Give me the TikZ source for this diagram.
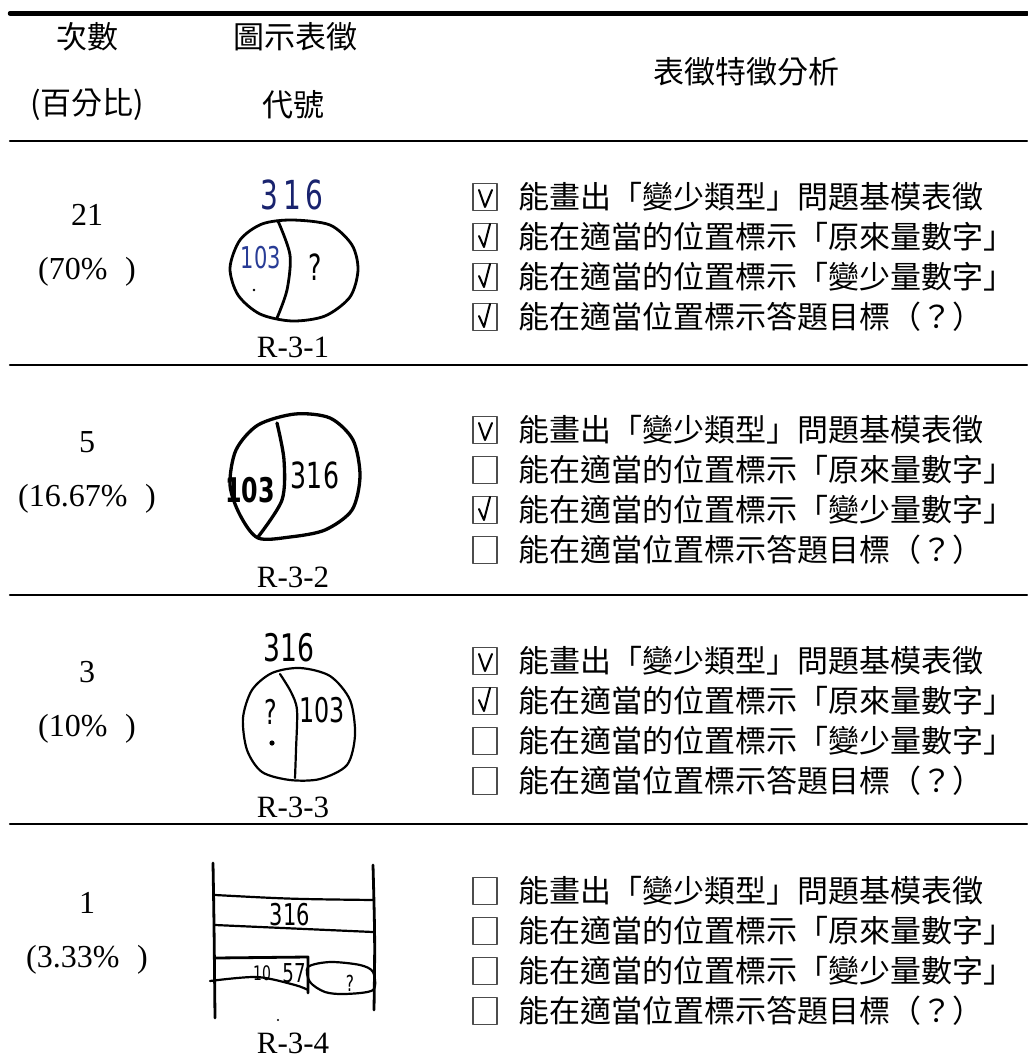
\documentclass[tikz,border=0pt]{standalone}
\usepackage{fontspec}
\setmainfont{Liberation Serif}
\newfontfamily\cjk{Noto Sans CJK TC}
\newfontfamily\hand{DejaVu Sans}
\newcommand\hw[1]{\scalebox{.7}[1]{#1}}
\definecolor{pen}{RGB}{25,35,110}
\definecolor{penb}{RGB}{40,60,150}
\begin{document}
\begin{tikzpicture}[x=1pt, y=-1pt, line join=round, line cap=round,
	head/.style={font=\cjk\fontsize{31}{37}\selectfont, inner sep=0pt},
	num/.style={font=\fontsize{32}{38}\selectfont, inner sep=0pt},
	code/.style={font=\fontsize{31}{37}\selectfont, inner sep=0pt},
	item/.style={font=\cjk\fontsize{31}{37}\selectfont, anchor=west, inner sep=0pt},
	cbox/.style={draw=black!70, line width=1.3pt, minimum width=24pt, minimum height=27pt, inner sep=0pt},
	tick/.style={line width=2pt},
	rule/.style={line width=2.5pt},
	ink/.style={line width=2.8pt},
	hw/.style={font=\hand\fontsize{30}{32}\selectfont, inner sep=0pt}]
	\useasboundingbox (0,0) rectangle (1027,1059);
	% rules
	\draw[line width=4.5pt] (10,13.5) -- (1027,13.5);
	\draw[rule] (10,141) -- (1027,141);
	\foreach \y in {365,595,824} \draw[rule] (10,\y) -- (1027,\y);
	% header
	\node[head] (h-cnt) at (87,37) {次數};
	\node[head] (h-pct) at (87,105) {(百分比)};
	\node[head] (h-fig) at (295,37) {圖示表徵};
	\node[head] (h-code) at (293,105) {代號};
	\node[head] (h-ana) at (746,72) {表徵特徵分析};
	% counts and codes
	\foreach \r/\y/\n/\p in {1/215/21/70, 2/442/5/16.67, 3/672/3/10, 4/903/1/3.33} {
		\node[num] (cnt-\r) at (87,\y) {\n};
		\node[num] (pct-\r) at (87,\y+57) {(\p\%\hspace{.55em})};
	}
	\foreach \r/\y in {1/347,2/577,3/807,4/1043} \node[code] (code-\r) at (293,\y) {R-3-\r};
	% check list
	\foreach \r/\y in {1/197,2/430,3/661,4/891}
		\foreach \i/\t in {1/能畫出「變少類型」問題基模表徵, 2/能在適當的位置標示「原來量數字」,
			3/能在適當的位置標示「變少量數字」, 4/能在適當位置標示答題目標（？）} {
			\node[cbox] (box-\r-\i) at (485,\y+40*\i-40) {};
			\node[item] (item-\r-\i) at (518,\y+40*\i-40) {\t};
		}
	\foreach \r in {1,2,3}
		\draw[tick] ([shift={(-6,-7)}]box-\r-1.center) -- ([shift={(0,10)}]box-\r-1.center) -- ([shift={(7,-7)}]box-\r-1.center);
	\foreach \r/\i in {1/2,1/3,1/4,2/3,3/2}
		\draw[tick] ([shift={(-6,-1)}]box-\r-\i.center) -- ([shift={(-1,10)}]box-\r-\i.center) -- ([shift={(5,-13)}]box-\r-\i.center);
	% R-3-1
	\draw[ink] plot[smooth cycle] coordinates {(292,220) (330,225) (352,245) (358,270) (350,297) (325,316) (292,321) (260,314) (238,295) (230,268) (240,240) (262,224)};
	\draw[ink] plot[smooth] coordinates {(278,221) (290,255) (287,290) (277,318)};
	\node[hw, text=pen, font=\hand\fontsize{40}{40}\selectfont] (a-top) at (292,195) {\hw{3\,1\,6}};
	\node[hw, text=penb] (a-left) at (261,258) {\hw{103}};
	\node[hw, font=\hand\fontsize{36}{36}\selectfont] (a-right) at (315,267) {\hw{?}};
	\fill (254,290) circle (1.3);
	% R-3-2
	\draw[ink, line width=3.3pt] plot[smooth cycle] coordinates {(295,414) (330,418) (353,440) (360,476) (352,510) (325,530) (290,537) (258,538) (240,515) (230,485) (236,450) (258,425)};
	\draw[ink, line width=3.3pt] plot[smooth] coordinates {(277,423) (284,460) (282,500) (258,537)};
	\node[hw, font=\hand\bfseries\fontsize{34}{34}\selectfont] (b-left) at (250,490) {\hw{103}};
	\node[hw, font=\hand\fontsize{36}{36}\selectfont] (b-right) at (315,475) {\hw{316}};
	% R-3-3
	\draw[ink, line width=2.2pt] plot[smooth cycle] coordinates {(300,668) (330,676) (350,700) (355,735) (347,765) (320,779) (290,780) (262,772) (247,750) (243,718) (252,690) (272,673)};
	\draw[ink, line width=2.2pt] plot[smooth] coordinates {(280,674) (291,692) (297,710) (296,750) (295,778)};
	\node[hw, font=\hand\fontsize{38}{38}\selectfont] (c-top) at (289,648) {\hw{316}};
	\node[hw, font=\hand\fontsize{34}{34}\selectfont] (c-left) at (271,712) {\hw{?}};
	\node[hw, font=\hand\fontsize{34}{34}\selectfont] (c-right) at (322,710) {\hw{103}};
	\fill (272,743) circle (2.6);
	% R-3-4
	\draw[ink] (213,863) .. controls (214,920) .. (215,1018);
	\draw[ink] (373,865) .. controls (375,940) .. (374,1010);
	\draw[ink, line width=2.2pt] (215,895) .. controls (290,899) .. (373,900);
	\draw[ink, line width=2.2pt] (215,925) -- (373,932);
	\draw[ink] (215,958) -- (308,957) -- (308,993);
	\draw[ink, line width=2.2pt] plot[smooth] coordinates {(210,981) (257,977) (295,985) (308,990)};
	\draw[ink, line width=2.2pt] plot[smooth cycle] coordinates {(308,967) (330,962) (360,965) (373,972) (373,990) (345,994) (325,992) (310,982)};
	\node[hw, font=\hand\fontsize{30}{30}\selectfont] (d-top) at (290,915) {\hw{316}};
	\node[hw, font=\hand\fontsize{20}{20}\selectfont] (d-low) at (262,973) {\hw{10}};
	\node[hw, font=\hand\fontsize{26}{26}\selectfont] (d-mid) at (294,973) {\hw{57}};
	\node[hw, font=\hand\fontsize{22}{22}\selectfont] (d-right) at (350,983) {\hw{?}};
	\fill (278,1020) circle (1.2);
\end{tikzpicture}
\end{document}
